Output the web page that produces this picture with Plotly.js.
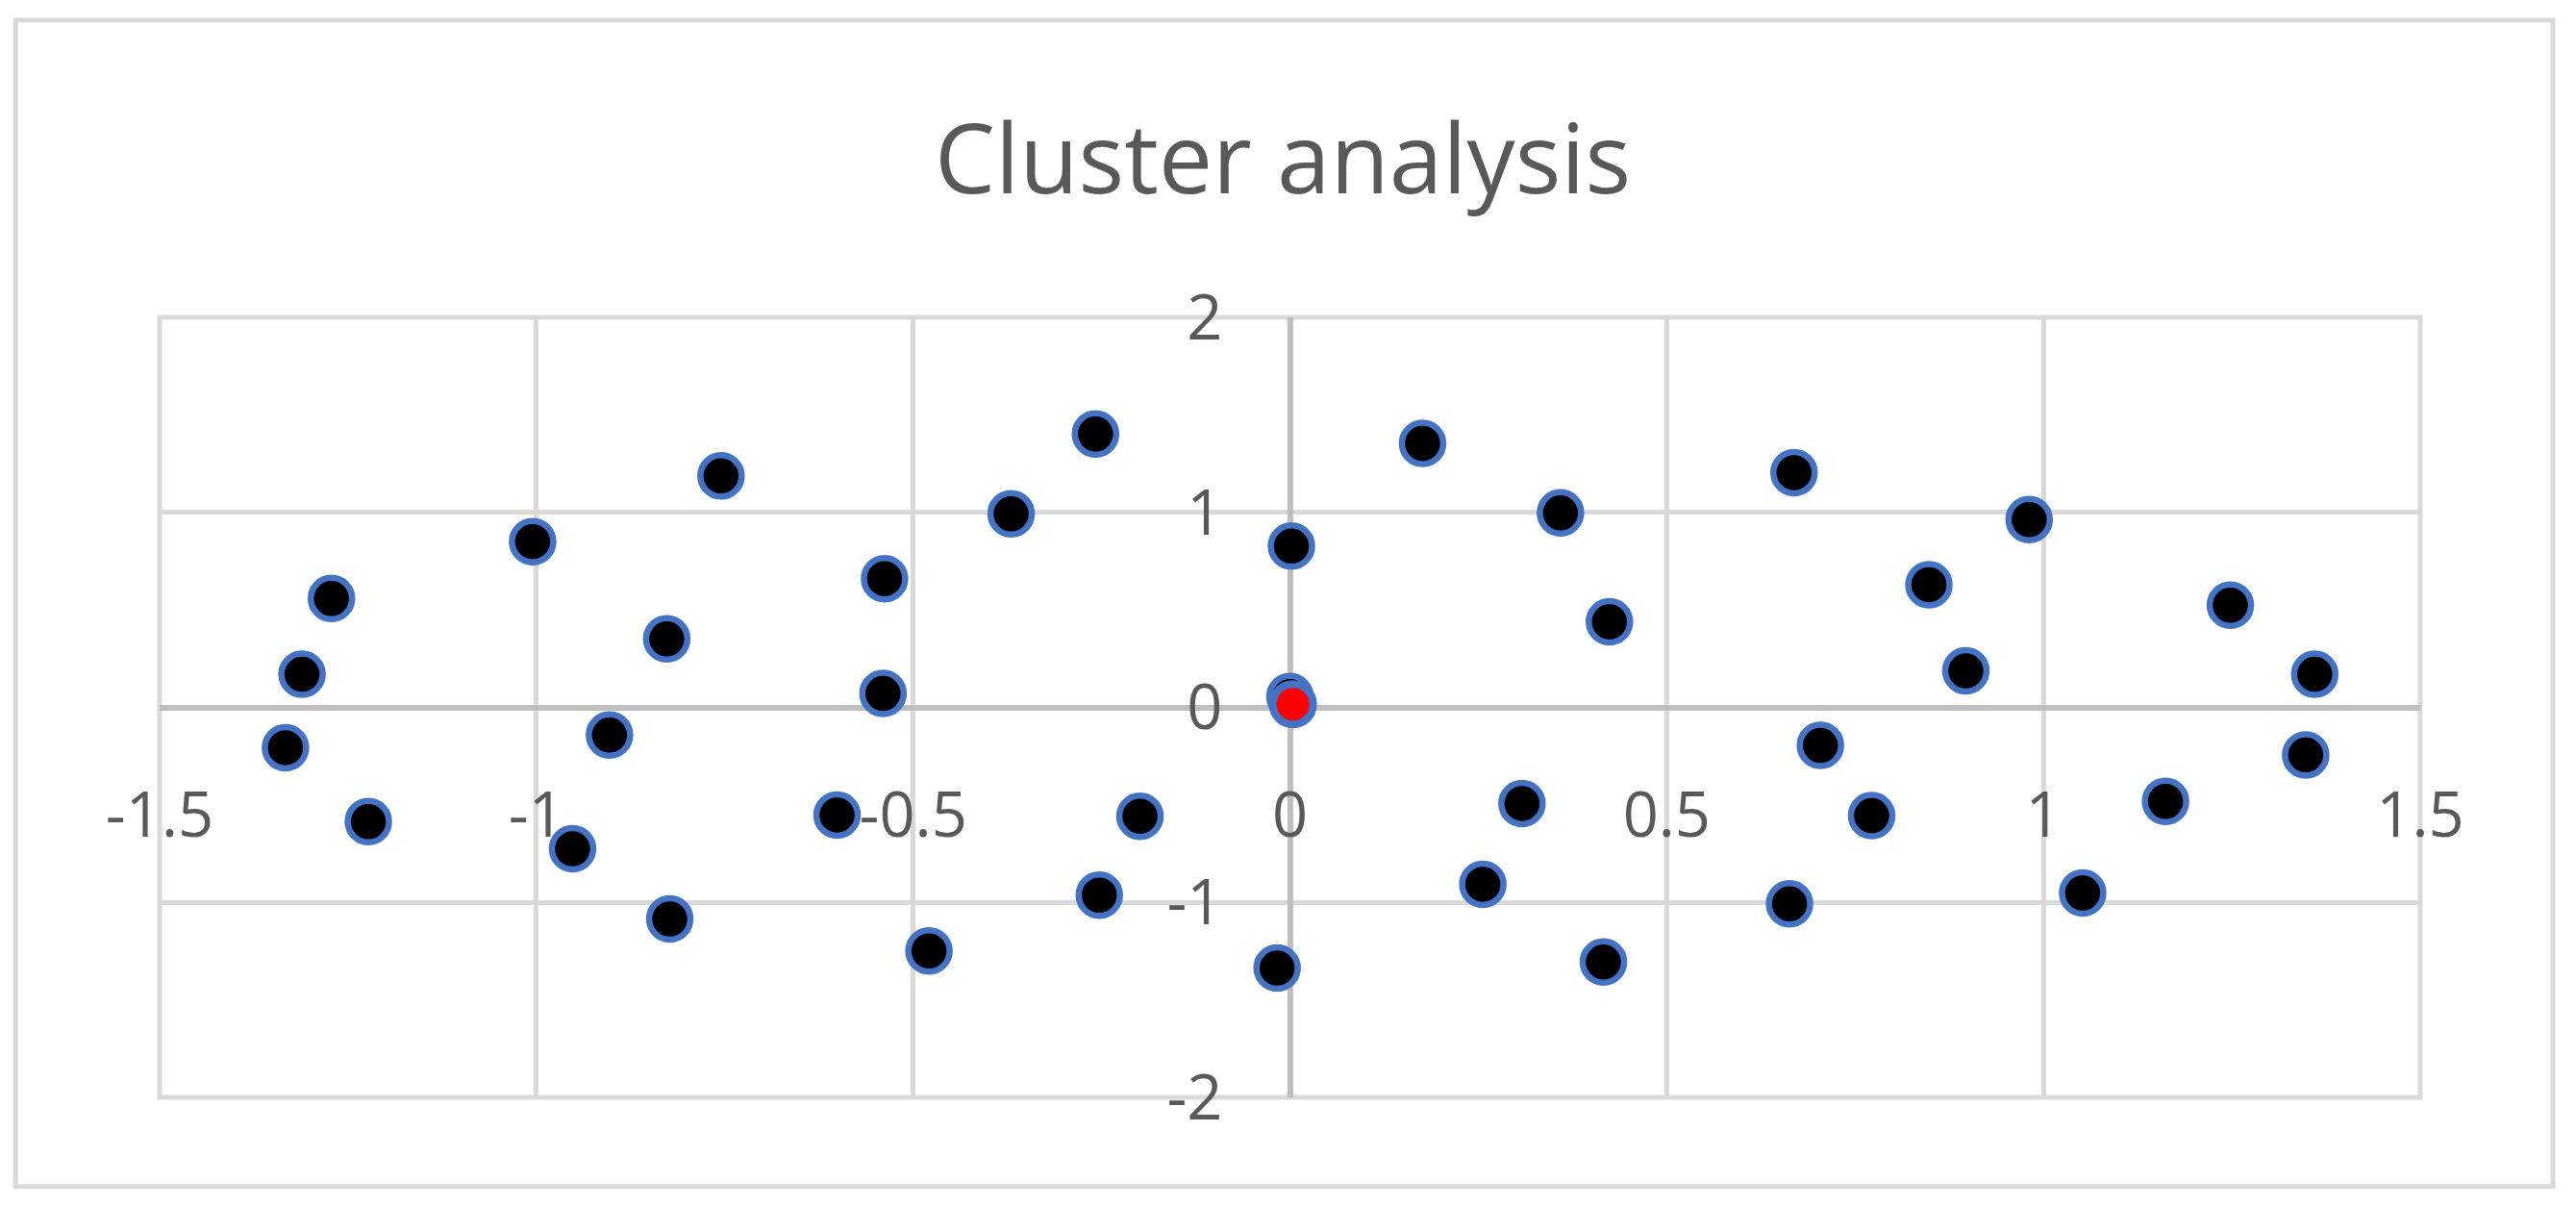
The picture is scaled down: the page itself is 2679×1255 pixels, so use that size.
<!DOCTYPE html>
<html>
<head>
<meta charset="utf-8">
<script src="https://cdn.plot.ly/plotly-3.0.1.min.js"></script>
<style>
html,body{margin:0;padding:0;background:#fff;}
#chart{width:2679px;height:1255px;}
</style>
</head>
<body>
<div id="chart"></div>
<script>
// Data points (cluster members)
var pointsX = [-1.272, -1.311, -1.333, -1.223, -1.005, -0.755, -0.827, -0.903, -0.952, -0.823, -0.601,
               -0.538, -0.540, -0.258, -0.370, -0.199, -0.253, -0.479,
               0.002, 0.000,
               0.176, 0.359, 0.424, 0.308, 0.256, 0.416, -0.017,
               0.669, 0.981, 0.848, 0.897, 1.248, 1.360, 1.348, 1.162, 1.052, 0.704, 0.772, 0.663];
var pointsY = [0.558, 0.170, -0.207, -0.586, 0.850, 1.187, 0.351, -0.142, -0.725, -1.085, -0.552,
               0.660, 0.071, 1.402, 0.992, -0.558, -0.963, -1.249,
               0.827, 0.055,
               1.354, 0.997, 0.439, -0.493, -0.907, -1.306, -1.337,
               1.204, 0.963, 0.629, 0.187, 0.524, 0.170, -0.244, -0.482, -0.952, -0.195, -0.555, -1.008];
// Centroid
var centroidX = [0.004];
var centroidY = [0.016];

// Tick labels
var xTickVals = [-1.5, -1, -0.5, 0, 0.5, 1, 1.5];
var xTickText = ["-1.5", "-1", "-0.5", "0", "0.5", "1", "1.5"];
var yTickVals = [-2, -1, 0, 1, 2];
var yTickText = ["-2", "-1", "0", "1", "2"];

var traces = [
  {
    x: pointsX, y: pointsY, type: 'scatter', mode: 'markers', name: 'Points',
    marker: {size: 43, color: '#000000', line: {color: '#4472C4', width: 6.5}},
    cliponaxis: false
  },
  {
    x: centroidX, y: centroidY, type: 'scatter', mode: 'markers', name: 'Centroid',
    marker: {size: 42, color: '#FF0000', line: {color: '#4472C4', width: 8}},
    cliponaxis: false
  }
];

var tickFont = {family: 'Open Sans, sans-serif', size: 65, color: '#595959'};

var layout = {
  width: 2679, height: 1255,
  paper_bgcolor: '#ffffff', plot_bgcolor: '#ffffff',
  showlegend: false,
  margin: {l: 166, r: 162, t: 330, b: 114, pad: 0},
  title: {
    text: 'Cluster analysis',
    font: {family: 'Open Sans, sans-serif', size: 100, color: '#595959'},
    xref: 'container', x: 0.498, xanchor: 'center',
    yref: 'container', y: 0.868, yanchor: 'middle'
  },
  xaxis: {
    range: [-1.5, 1.5], tickmode: 'array', tickvals: xTickVals, ticktext: xTickText,
    showgrid: true, gridcolor: '#d9d9d9', gridwidth: 5,
    zeroline: true, zerolinecolor: '#bfbfbf', zerolinewidth: 6,
    showline: false, ticks: '', anchor: 'free', position: 0.5,
    ticklabelstandoff: 68, tickfont: tickFont, fixedrange: true
  },
  yaxis: {
    range: [-2, 2], tickmode: 'array', tickvals: yTickVals, ticktext: yTickText,
    showgrid: true, gridcolor: '#d9d9d9', gridwidth: 5,
    zeroline: true, zerolinecolor: '#bfbfbf', zerolinewidth: 6,
    showline: false, ticks: '', anchor: 'free', position: 0.5,
    ticklabelstandoff: 70, tickfont: tickFont, fixedrange: true
  },
  shapes: [
    {type: 'rect', xref: 'paper', yref: 'paper', x0: 0, x1: 1, y0: 0, y1: 1,
     line: {color: '#d9d9d9', width: 5}, fillcolor: 'rgba(0,0,0,0)', layer: 'below'},
    {type: 'rect', xref: 'paper', yref: 'paper', x0: -0.0637, x1: 1.0587, y0: -0.1145, y1: 1.381,
     line: {color: '#d9d9d9', width: 5}, fillcolor: 'rgba(0,0,0,0)', layer: 'below'}
  ]
};

Plotly.newPlot('chart', traces, layout, {displayModeBar: false, staticPlot: true});
</script>
</body>
</html>
